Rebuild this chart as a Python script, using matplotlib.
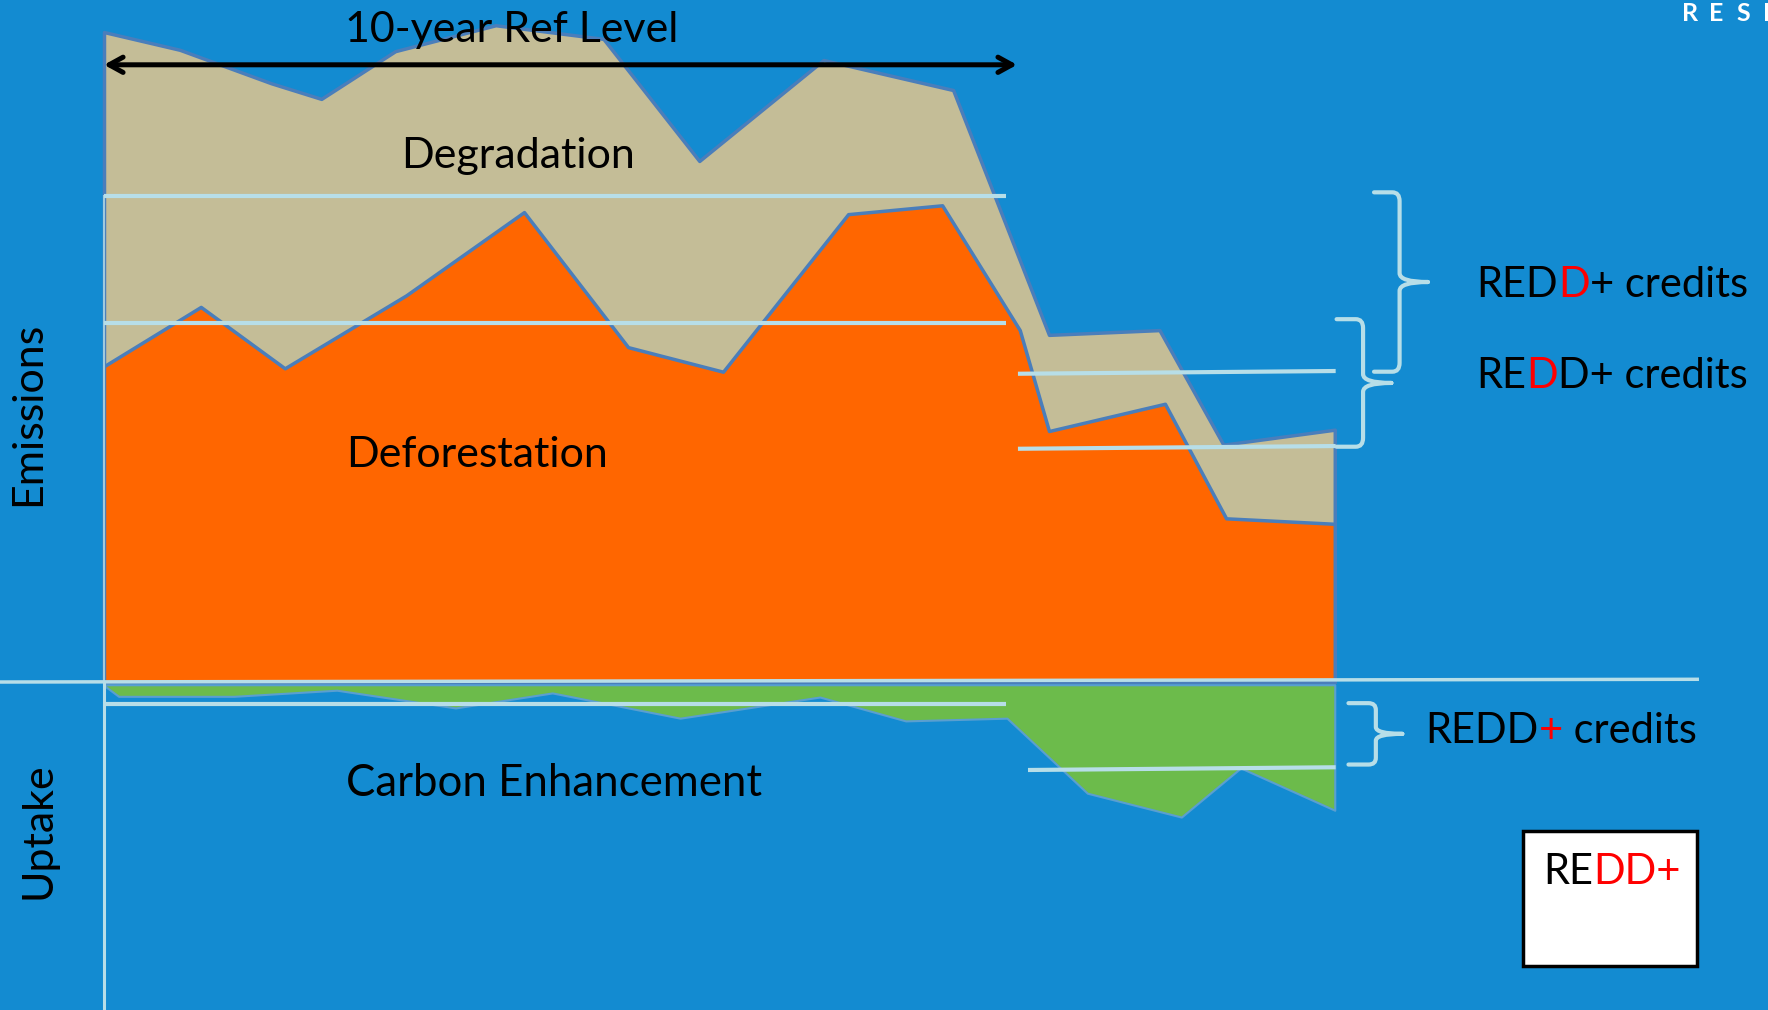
import numpy as np
import matplotlib.pyplot as plt
from matplotlib.path import Path
from matplotlib.patches import PathPatch, Rectangle

plt.rcParams['font.family'] = ['Lato', 'DejaVu Sans']

# emissions (arbitrary units) by year
deg_years = [0, 0.83, 1.83, 2.38, 3.19, 4.29, 5.47, 6.52, 7.88, 9.30, 10.35, 11.56, 12.26, 13.48]
deg_total = [95.3, 92.7, 87.8, 85.5, 92.5, 96.3, 94.3, 76.4, 91.2, 86.8, 50.9, 51.6, 34.8, 37.0]

def_years = [0, 1.06, 1.98, 3.31, 4.60, 5.74, 6.78, 8.15, 9.18, 10.03, 10.35, 11.62, 12.29, 13.48]
def_vals = [46.3, 55.0, 46.0, 56.7, 68.9, 49.1, 45.5, 68.6, 69.9, 51.6, 36.8, 40.8, 24.0, 23.2]

up_years = [0, 0.16, 1.42, 2.55, 3.85, 4.91, 6.31, 7.84, 8.78, 9.89, 10.77, 11.80, 12.45, 13.48]
up_vals = [-0.5, -2.1, -2.1, -1.2, -3.8, -1.6, -5.3, -2.2, -5.7, -5.3, -16.3, -19.8, -12.6, -18.8]

# reference levels (first 10 years) and later levels
ref_span = [0, 9.88]
deg_ref = 71.3
def_ref = 52.7
up_ref = -3.2
new_span = [10.01, 13.49]
up_new_span = [10.12, 13.49]
deg_new = [45.2, 45.6]
def_new = [34.2, 34.6]
up_new = [-12.9, -12.5]

bg = '#138bd1'
tan = '#c4bd97'
orange = '#ff6600'
green = '#6cbb4b'
edge = '#4a7ebb'
cyan = '#b7dee8'

fig = plt.figure(figsize=(17.68, 10.10), dpi=100)
fig.patch.set_facecolor(bg)
ax = fig.add_axes([0, 0, 1, 1])
ax.set_facecolor(bg)
ax.set_xlim(-1.139, 18.225)
ax.set_ylim(-48.09, 100)
ax.axis('off')

ax.fill_between(deg_years, 0, deg_total, facecolor=tan, edgecolor=edge, lw=2.5, zorder=2)
ax.fill_between(def_years, 0, def_vals, facecolor=orange, edgecolor=edge, lw=2.5, zorder=3)
ax.fill_between(up_years, -0.4, up_vals, facecolor=green, edgecolor='#5a9fd0', lw=1.5, zorder=3)

# axes lines
ax.plot([-1.139, 17.45], [0, 0.4], color=cyan, lw=2.5, zorder=4)
ax.plot([0, 0], [deg_ref, 0], color=cyan, lw=1.5, alpha=0.8, zorder=4)
ax.plot([0, 0], [0, -48.09], color=cyan, lw=2.2, zorder=4)

# reference lines
lk = dict(color=cyan, lw=3, zorder=5, solid_capstyle='butt')
ax.plot(ref_span, [deg_ref, deg_ref], **lk)
ax.plot(ref_span, [def_ref, def_ref], **lk)
ax.plot(ref_span, [up_ref, up_ref], **lk)
ax.plot(new_span, deg_new, **lk)
ax.plot(new_span, def_new, **lk)
ax.plot(up_new_span, up_new, **lk)


def brace(x, x0, top, bot, tip, r=1.3, rx=0.08):
    mid = (top + bot) / 2
    verts = [(x0, top), (x - rx, top), (x, top), (x, top - r),
             (x, mid + r), (x, mid), (tip, mid),
             (tip, mid), (x, mid), (x, mid - r),
             (x, bot + r), (x, bot), (x - rx, bot), (x0, bot)]
    codes = [Path.MOVETO, Path.LINETO, Path.CURVE3, Path.CURVE3,
             Path.LINETO, Path.CURVE3, Path.CURVE3,
             Path.MOVETO, Path.CURVE3, Path.CURVE3,
             Path.LINETO, Path.CURVE3, Path.CURVE3, Path.LINETO]
    ax.add_patch(PathPatch(Path(verts, codes), fill=False, edgecolor=cyan,
                           lw=3, capstyle='round', zorder=6))


brace(14.19, 13.91, deg_ref + 0.5, deg_new[1] - 0.1, 14.50)
brace(13.79, 13.50, def_ref + 0.5, def_new[1] - 0.1, 14.10)
brace(13.93, 13.63, up_ref + 0.1, up_new[1] + 0.4, 14.22, r=1.0)

# 10-year arrow
ax.annotate('', xy=(10.0, 90.5), xytext=(0, 90.5),
            arrowprops=dict(arrowstyle='<->, head_length=1.0, head_width=0.55',
                            lw=3.6, color='black', shrinkA=0, shrinkB=0), zorder=7)

fs = 31
ax.text(4.47, 93.8, '10-year Ref Level', fontsize=fs, ha='center', va='baseline', zorder=8)
ax.text(4.53, 75.4, 'Degradation', fontsize=fs, ha='center', va='baseline', zorder=8)
ax.text(2.65, 31.5, 'Deforestation', fontsize=fs, ha='left', va='baseline', zorder=8)
ax.text(2.65, -16.7, 'Carbon Enhancement', fontsize=31.5, ha='left', va='baseline', zorder=8)
ax.text(-0.832, 39.3, 'Emissions', fontsize=fs, rotation=90, ha='center', va='center', zorder=8)
ax.text(-0.712, -21.85, 'Uptake', fontsize=fs, rotation=90, ha='center', va='center', zorder=8)


def colored_text(x, y, pieces, size=30):
    prev = ax.text(x, y, pieces[0][0], color=pieces[0][1], fontsize=size,
                   ha='left', va='baseline', zorder=9)
    for s, c in pieces[1:]:
        prev = ax.annotate(s, xy=(1, 0), xycoords=prev, color=c, fontsize=size,
                           ha='left', va='bottom', zorder=9)


colored_text(15.03, 56.5, [('RED', 'black'), ('D', 'red'), ('+ credits', 'black')])
colored_text(15.03, 43.1, [('RE', 'black'), ('D', 'red'), ('D+ credits', 'black')])
colored_text(14.47, -8.9, [('REDD', 'black'), ('+', 'red'), (' credits', 'black')])

ax.add_patch(Rectangle((15.54, -41.6), 1.91, 19.8, facecolor='white',
                       edgecolor='black', lw=2.5, zorder=8))
colored_text(15.76, -29.6, [('RE', 'black'), ('DD+', 'red')], size=30)

for i, ch in enumerate('RESE'):
    fig.text((1682 + 27 * i) / 1768, 0.979, ch, color='white', fontsize=18,
             fontweight='bold', ha='left', va='baseline')

fig.savefig('out.png', dpi=100, facecolor=bg)
